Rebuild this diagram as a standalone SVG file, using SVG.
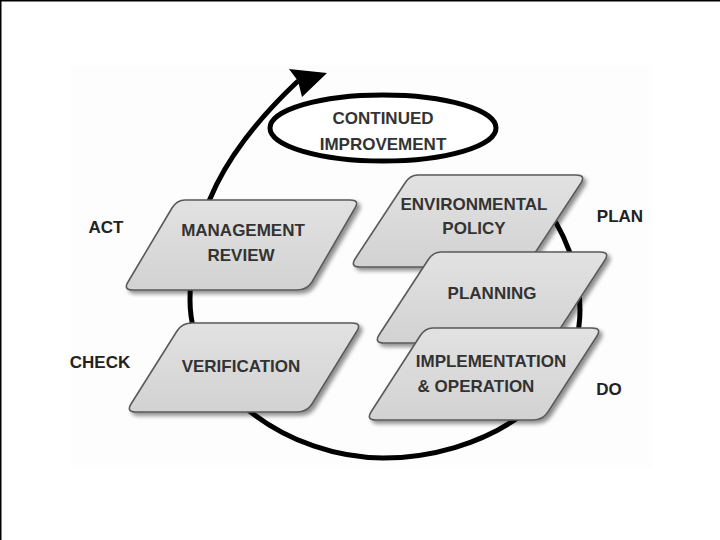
<svg xmlns="http://www.w3.org/2000/svg" width="720" height="540" viewBox="0 0 720 540">
<defs>
<filter id="sh" x="-10%" y="-10%" width="130%" height="140%">
<feGaussianBlur in="SourceAlpha" stdDeviation="2"/>
<feOffset dx="3" dy="3" result="b"/>
<feComponentTransfer><feFuncA type="linear" slope="0.45"/></feComponentTransfer>
<feMerge><feMergeNode/><feMergeNode in="SourceGraphic"/></feMerge>
</filter>
<linearGradient id="g" x1="0" y1="0" x2="0" y2="1">
<stop offset="0" stop-color="#e2e2e2"/>
<stop offset="1" stop-color="#d2d2d2"/>
</linearGradient>
</defs>
<style>
.box{fill:url(#g);stroke:#5a5a5a;stroke-width:1.6;stroke-linejoin:round;filter:url(#sh)}
.t{font-family:"Liberation Sans",Arial,sans-serif;font-weight:bold;font-size:17px;fill:#333;text-anchor:middle}
.side{font-family:"Liberation Sans",Arial,sans-serif;font-weight:bold;font-size:17px;fill:#222;text-anchor:middle}
.arc{fill:none;stroke:#000;stroke-width:5;stroke-linecap:round}
</style>
<rect width="720" height="540" fill="#fff"/>
<rect x="70" y="65" width="582" height="402" fill="#fdfdfd"/>
<path d="M0.75,540 V0.75 H720" fill="none" stroke="#000" stroke-width="1.5"/>
<g id="connectors">
<path class="arc" d="M540,200 C565,230 580,270 580,310 C580,400 480,458 383,458 C290,458 190,390 190,300 C190,215 225,150 297,82"/>
<polygon points="327,73 289,69 298,81 302,97" fill="#000"/>
</g>
<g id="improvement">
<ellipse cx="383" cy="128" rx="113" ry="33" fill="#fff" stroke="#000" stroke-width="5"/>
<text class="t" x="383" y="124">CONTINUED</text>
<text class="t" x="383" y="150">IMPROVEMENT</text>
</g>
<g id="management-review">
<path class="box" d="M185,200 H350 Q360,200 355,208 L312,282 Q307,290 297,290 H133 Q123,290 128,282 L172,208 Q177,200 185,200 Z"/>
<text class="t" x="243" y="236">MANAGEMENT</text>
<text class="t" x="241" y="261">REVIEW</text>
</g>
<g id="verification">
<path class="box" d="M192,323 H352 Q362,323 357,331 L312,404 Q307,412 297,412 H136 Q126,412 131,404 L177,331 Q182,323 192,323 Z"/>
<text class="t" x="241" y="372">VERIFICATION</text>
</g>
<g id="environmental-policy">
<path class="box" d="M418,175 H576 Q586,175 581,183 L531,259 Q526,267 516,267 H360 Q350,267 355,259 L405,183 Q410,175 418,175 Z"/>
<text class="t" x="474" y="210">ENVIRONMENTAL</text>
<text class="t" x="474" y="234">POLICY</text>
</g>
<g id="planning">
<path class="box" d="M441,252 H600 Q610,252 605,260 L556,335 Q551,343 541,343 H384 Q374,343 379,335 L428,260 Q433,252 441,252 Z"/>
<text class="t" x="492" y="299">PLANNING</text>
</g>
<g id="implementation-operation">
<path class="box" d="M433,328 H592 Q602,328 597,336 L548,412 Q543,420 533,420 H376 Q366,420 371,412 L420,336 Q425,328 433,328 Z"/>
<text class="t" x="491" y="367">IMPLEMENTATION</text>
<text class="t" x="476" y="392">&amp; OPERATION</text>
</g>
<g id="labels">
<text class="side" x="106" y="233">ACT</text>
<text class="side" x="100" y="368">CHECK</text>
<text class="side" x="620" y="222">PLAN</text>
<text class="side" x="609" y="395">DO</text>
</g>
</svg>
